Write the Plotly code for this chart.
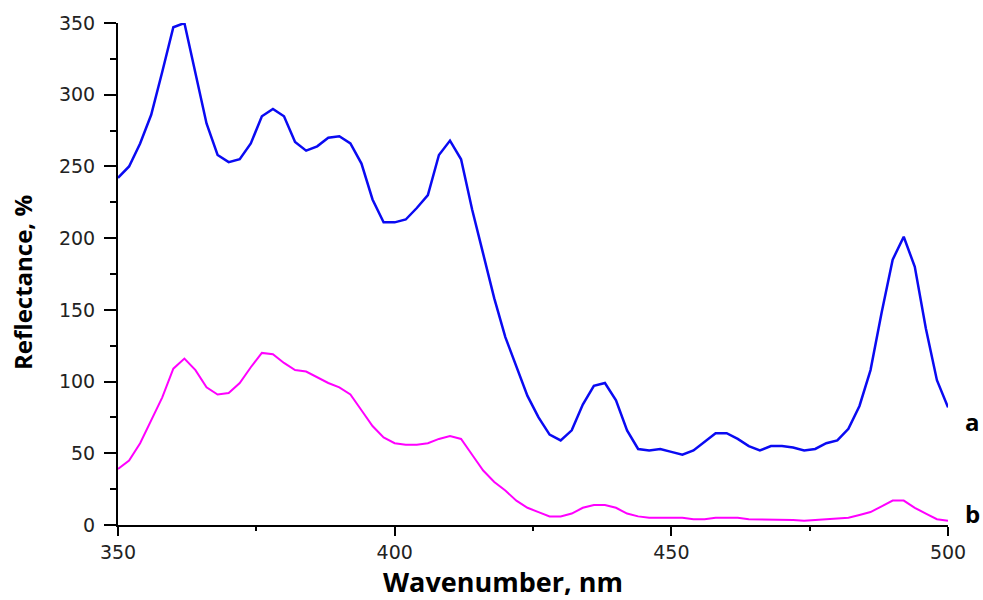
import plotly.graph_objects as go

wavelength = [350, 352, 354, 356, 358, 360, 362, 364, 366, 368, 370, 372, 374, 376, 378, 380,
              382, 384, 386, 388, 390, 392, 394, 396, 398, 400, 402, 404, 406, 408, 410, 412,
              414, 416, 418, 420, 422, 424, 426, 428, 430, 432, 434, 436, 438, 440, 442, 444,
              446, 448, 450, 452, 454, 456, 458, 460, 462, 464, 466, 468, 470, 472, 474, 476,
              478, 480, 482, 484, 486, 488, 490, 492, 494, 496, 498, 500]

series_a = [242, 250, 266, 286, 316, 347, 350, 316, 280, 258, 253, 255, 266, 285, 290, 285,
            267, 261, 264, 270, 271, 266, 252, 227, 211, 211, 213, 221, 230, 258, 268, 255,
            220, 189, 158, 131, 110, 90, 75, 63, 59, 66, 84, 97, 99, 87, 66, 53,
            52, 53, 51, 49, 52, 58, 64, 64, 60, 55, 52, 55, 55, 54, 52, 53,
            57, 59, 67, 83, 108, 148, 185, 201, 180, 137, 101, 82]

series_b = [39, 45, 57, 73, 89, 109, 116, 108, 96, 91, 92, 99, 110, 120, 119, 113,
            108, 107, 103, 99, 96, 91, 80, 69, 61, 57, 56, 56, 57, 60, 62, 60,
            49, 38, 30, 24, 17, 12, 9, 6, 6, 8, 12, 14, 14, 12, 8, 6,
            5, 5, 5, 5, 4, 4, 5, 5, 5, 4, 4, 4, 3.5, 3.5, 3, 3.5,
            3.5, 4, 5, 7, 9, 13, 17, 17, 12, 8, 4, 3]

labels = ["a", "b"]
label_y = [72, 8]

x_title = "Wavenumber, nm"
y_title = "Reflectance, %"

fig = go.Figure()
fig.add_trace(go.Scatter(x=wavelength, y=series_a, mode="lines",
                         line=dict(color="#0A0AF2", width=2.5), name="a"))
fig.add_trace(go.Scatter(x=wavelength, y=series_b, mode="lines",
                         line=dict(color="#FF00FF", width=2), name="b"))

for lab, yy in zip(labels, label_y):
    fig.add_annotation(x=1.03, xref="paper", y=yy, yref="y", text=lab, showarrow=False,
                       xanchor="center", yanchor="middle",
                       font=dict(family="Open Sans", size=24, color="black", weight="bold"))

fig.add_annotation(x=0.464, xref="paper", y=-0.072, yref="paper", text=x_title,
                   showarrow=False, xanchor="center", yanchor="top",
                   font=dict(family="Open Sans", size=27, color="black", weight="bold"))
fig.add_annotation(x=-0.1157, xref="paper", y=0.484, yref="paper", text=y_title,
                   showarrow=False, xanchor="center", yanchor="middle", textangle=-90,
                   font=dict(family="Open Sans", size=24, color="black", weight="bold"))

fig.update_layout(
    width=983, height=600,
    margin=dict(l=118, r=35, t=23, b=75),
    plot_bgcolor="white", paper_bgcolor="white",
    showlegend=False,
    xaxis=dict(range=[350, 500], showgrid=False, zeroline=False,
               showline=True, linecolor="black", linewidth=2,
               ticks="outside", ticklen=9, tickwidth=2, tickcolor="black",
               tickvals=[350, 400, 450, 500],
               minor=dict(ticks="outside", ticklen=4, tickwidth=2, tickcolor="black", dtick=25, tick0=350),
               tickfont=dict(family="DejaVu Sans", size=19, color="#222")),
    yaxis=dict(range=[0, 350], showgrid=False, zeroline=False,
               showline=True, linecolor="black", linewidth=2,
               ticks="outside", ticklen=12, tickwidth=2, tickcolor="black",
               ticklabelstandoff=5,
               tickvals=[0, 50, 100, 150, 200, 250, 300, 350],
               minor=dict(ticks="outside", ticklen=6, tickwidth=2, tickcolor="black", dtick=25, tick0=0),
               tickfont=dict(family="DejaVu Sans", size=19, color="#222")),
)

fig.write_html("out.html")
